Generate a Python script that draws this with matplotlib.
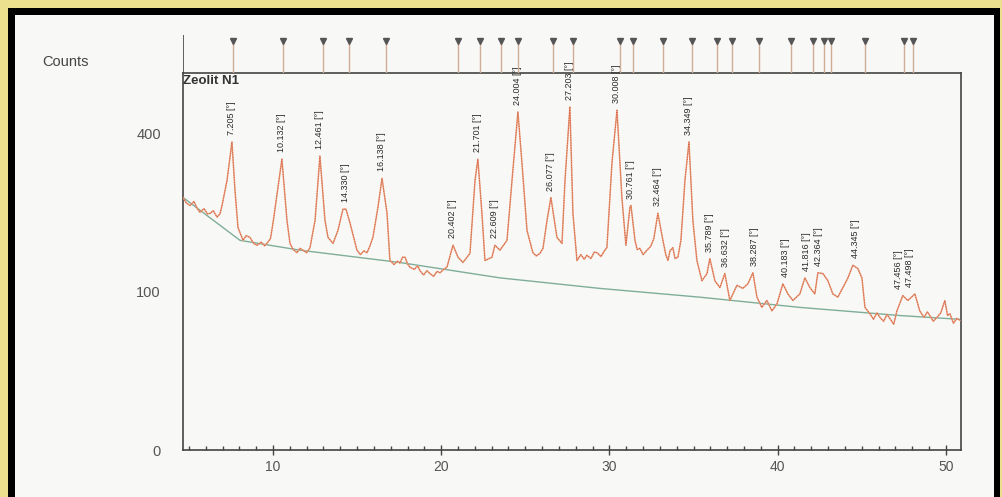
import matplotlib
matplotlib.use('Agg')
import numpy as np
import matplotlib.pyplot as plt
from matplotlib.patches import Rectangle

plt.rcParams['font.family'] = ['Liberation Sans', 'DejaVu Sans']

# ---- measured pattern (2theta, counts) ----
two_theta = [4.65, 4.85, 5.07, 5.30, 5.50, 5.66, 5.90, 6.10, 6.26, 6.45, 6.67, 6.85, 6.97, 7.27,
             7.56, 7.74, 7.92, 8.22, 8.40, 8.63, 8.85, 9.05, 9.30, 9.50, 9.64, 9.85,
             10.0, 10.53, 10.83, 11.01, 11.20, 11.43, 11.60, 11.78, 12.00, 12.20, 12.50, 12.79,
             13.09, 13.27, 13.57, 13.86, 14.16, 14.34, 14.58, 14.99, 15.20, 15.40, 15.59, 15.75,
             15.94, 16.24, 16.48, 16.78, 16.95, 17.20, 17.40, 17.55, 17.70, 17.85, 18.00, 18.14,
             18.40, 18.60, 18.74, 18.95, 19.15, 19.33, 19.55, 19.75, 19.93, 20.15, 20.34, 20.70,
             21.00, 21.29, 21.71, 22.01, 22.18, 22.42, 22.60, 23.02, 23.19, 23.49, 23.91, 24.21,
             24.56, 24.80, 25.10, 25.45, 25.65, 25.87, 26.05, 26.29, 26.52, 26.88, 27.18, 27.36,
             27.65, 27.83, 28.07, 28.30, 28.50, 28.66, 28.90, 29.10, 29.26, 29.50, 29.70, 29.85,
             30.15, 30.45, 30.74, 30.98, 31.22, 31.28, 31.52, 31.65, 31.81, 32.00, 32.23, 32.45,
             32.64, 32.88, 33.18, 33.35, 33.48, 33.60, 33.77, 33.90, 34.07, 34.25, 34.49, 34.73,
             34.96, 35.20, 35.50, 35.80, 35.97, 36.27, 36.57, 36.86, 37.16, 37.58, 37.93, 38.23,
             38.53, 38.77, 39.06, 39.36, 39.66, 39.96, 40.31, 40.61, 40.91, 41.32, 41.62, 41.92,
             42.21, 42.39, 42.69, 42.99, 43.28, 43.58, 43.88, 44.18, 44.47, 44.77, 45.01, 45.19,
             45.48, 45.70, 45.90, 46.08, 46.30, 46.50, 46.67, 46.90, 47.09, 47.44, 47.74, 48.16,
             48.45, 48.70, 48.90, 49.05, 49.25, 49.47, 49.70, 49.94, 50.10, 50.24, 50.45, 50.65,
             50.83]
counts = [254, 243, 238, 246, 232, 225, 232, 222, 223, 228, 216, 222, 238, 290,
          378, 269, 197, 175, 183, 180, 170, 167, 172, 166, 170, 178,
          205, 337, 210, 170, 160, 155, 162, 159, 155, 163, 210, 344,
          210, 180, 170, 192, 231, 231, 205, 159, 152, 158, 155, 165,
          180, 235, 294, 223, 143, 137, 142, 139, 148, 148, 138, 133,
          130, 135, 128, 122, 128, 124, 120, 127, 125, 130, 133, 167,
          148, 140, 154, 290, 337, 223, 143, 148, 167, 159, 175, 290,
          455, 328, 192, 155, 150, 154, 162, 210, 254, 180, 170, 290,
          469, 223, 143, 152, 145, 151, 146, 156, 155, 149, 158, 163,
          328, 460, 254, 167, 235, 238, 175, 160, 162, 152, 159, 165,
          178, 223, 175, 152, 143, 158, 163, 146, 148, 175, 290, 378,
          210, 143, 114, 124, 146, 114, 105, 124, 89, 108, 104, 110,
          125, 93, 81, 89, 77, 85, 110, 97, 89, 97, 118, 105,
          97, 125, 124, 114, 97, 93, 105, 118, 136, 131, 118, 81,
          74, 68, 75, 70, 66, 73, 69, 63, 77, 95, 89, 97,
          77, 70, 76, 72, 66, 70, 75, 89, 72, 74, 64, 69,
          67]

# ---- fitted background ----
bg_theta = [4.65, 8.04, 11.6, 17.55, 23.49, 29.43, 35.38, 41.32, 47.27, 50.83]
bg_counts = [254, 175, 159, 140, 118, 104, 93, 81, 72, 68]

# ---- peak labels ----
peak_theta = [7.56, 10.53, 12.79, 14.30, 16.48, 20.70, 22.18, 23.19, 24.56, 26.52, 27.65,
              30.45, 31.25, 32.88, 34.73, 35.97, 36.90, 38.60, 40.45, 41.70, 42.45, 44.60,
              47.20, 47.85]
peak_counts = [378, 337, 344, 231, 294, 167, 337, 167, 455, 254, 469,
               460, 238, 223, 378, 146, 124, 125, 110, 118, 125, 136,
               95, 97]
peak_labels = ['7.205 [°]', '10.132 [°]', '12.461 [°]', '14.330 [°]', '16.138 [°]',
               '20.402 [°]', '21.701 [°]', '22.609 [°]', '24.004 [°]', '26.077 [°]',
               '27.203 [°]', '30.008 [°]', '30.761 [°]', '32.464 [°]', '34.349 [°]',
               '35.789 [°]', '36.632 [°]', '38.287 [°]', '40.183 [°]', '41.816 [°]',
               '42.364 [°]', '44.345 [°]', '47.456 [°]', '47.498 [°]']

# ---- reference pattern stick positions (top) ----
ref_theta = [7.62, 10.59, 12.97, 14.52, 16.72, 21.00, 22.30, 23.55, 24.56, 26.64, 27.83,
             30.62, 31.40, 33.18, 34.90, 36.39, 37.28, 38.89, 40.79, 42.09, 42.75, 43.17,
             45.19, 47.50, 48.04]

x_ticks = [10, 20, 30, 40, 50]
y_ticks = [0, 100, 400]

W, H = 1002, 497
fig = plt.figure(figsize=(W / 100, H / 100), dpi=100)
fig.patch.set_facecolor('#ece08e')

# page frame
fig.add_artist(Rectangle((8 / W, 0), (1000 - 8) / W, (H - 8) / H, transform=fig.transFigure,
                         facecolor='black', edgecolor='none', zorder=0))
fig.add_artist(Rectangle((15 / W, 0), (994 - 15) / W, (H - 15) / H, transform=fig.transFigure,
                         facecolor='#f8f8f6', edgecolor='none', zorder=0))

left, right = 183 / W, 961 / W
bottom, top = 1 - 450 / H, 1 - 73 / H
ax = fig.add_axes([left, bottom, right - left, top - bottom])
ax.set_facecolor('none')

ax.set_yscale('function', functions=(lambda v: np.sqrt(np.clip(v, 0, None)), lambda v: v ** 2))
ax.set_xlim(4.65, 50.9)
ax.set_ylim(0, 566)

ax.plot(bg_theta, bg_counts, color='#7fae98', lw=1.0, zorder=2)
ax.plot(two_theta, counts, color='#eba07c', lw=1.1, zorder=3)
ax.plot(two_theta, counts, color='#cf5a44', lw=0.6, ls=(0, (1.5, 1.5)), zorder=4)

for t, c, lab in zip(peak_theta, peak_counts, peak_labels):
    ax.annotate(lab, (t, c), xytext=(0, 5), textcoords='offset points', rotation=90,
                ha='center', va='bottom', fontsize=6.5, color='#2a2a2a', annotation_clip=False)

ax.set_xticks(x_ticks)
ax.set_xticks(np.arange(5, 51, 1), minor=True)
ax.set_yticks(y_ticks)
ax.set_yticks([], minor=True)
ax.tick_params(axis='x', which='major', direction='inout', length=7, width=1, colors='#444444',
               labelcolor='#555555', labelsize=10, pad=4)
ax.tick_params(axis='x', which='minor', direction='in', length=3, width=1, colors='#444444')
ax.tick_params(axis='y', which='major', length=0, labelcolor='#555555', labelsize=10.5, pad=16)
for s in ax.spines.values():
    s.set_color('#444444')
    s.set_linewidth(1.2)

ax.text(0.0, 0.995, 'Zeolit N1', transform=ax.transAxes, fontsize=9.5, color='#333333',
        ha='left', va='top', fontweight='bold')
fig.text(42 / W, 1 - 62 / H, 'Counts', fontsize=10.5, color='#444444', ha='left', va='center')

# top stick pattern
axt = fig.add_axes([left, 1 - 73 / H, right - left, 38 / H])
axt.set_xlim(ax.get_xlim())
axt.set_ylim(0, 1)
axt.axis('off')
axt.vlines(ref_theta, 0, 0.82, color='#d0ae96', lw=1.0)
axt.plot(ref_theta, [0.84] * len(ref_theta), ls='none', marker='v', ms=4, color='#555555')
axt.vlines([4.65], 0, 1.05, color='#444444', lw=1.2)

fig.savefig('out.png', dpi=100, facecolor=fig.get_facecolor())
